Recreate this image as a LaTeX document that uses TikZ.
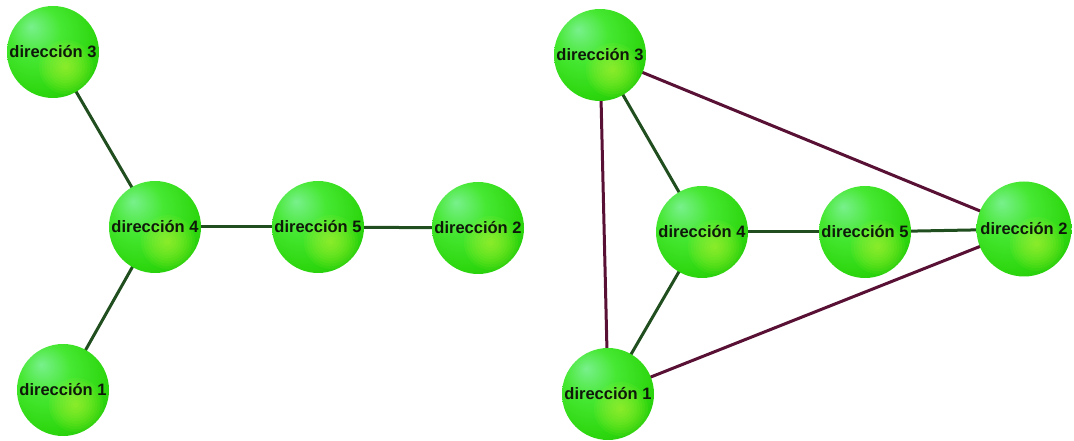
\documentclass[tikz,border=0pt]{standalone}
\usepackage{fontspec}
\setmainfont{Liberation Sans}
\definecolor{spA}{RGB}{120,240,140}
\definecolor{spB}{RGB}{70,232,50}
\definecolor{spC}{RGB}{45,215,15}
\definecolor{spD}{RGB}{25,180,0}
\definecolor{spY}{RGB}{215,255,60}
\definecolor{edgegreen}{RGB}{32,78,30}
\definecolor{edgemaroon}{RGB}{88,16,52}
\definecolor{labelcol}{RGB}{15,25,10}
\pgfdeclareradialshading{sphere}{\pgfpoint{-12bp}{14bp}}{%
  color(0bp)=(spA); color(14bp)=(spB); color(30bp)=(spC); color(48bp)=(spD); color(70bp)=(spD)}
\pgfdeclarelayer{background}
\pgfsetlayers{background,main}
\tikzset{
  ball/.style={circle, minimum size=92pt, inner sep=0pt, shading=sphere,
    path picture={\foreach \k in {1,...,10}{\fill[spY, opacity=0.07] (path picture bounding box.center) ++(13pt,-15pt) circle ({2.7*\k pt});}},
    label={[font=\fontsize{16.5}{18}\selectfont\bfseries, text=labelcol, inner sep=0pt]center:#1}},
  gedge/.style={draw=edgegreen, line width=3pt},
  medge/.style={draw=edgemaroon, line width=3pt}
}
\begin{document}
\begin{tikzpicture}[x=1pt,y=1pt]
\useasboundingbox (0,0) rectangle (1074,441);
% left graph
\node[ball={dirección 3}] (L3) at (53,389) {};
\node[ball={dirección 4}] (L4) at (155,214) {};
\node[ball={dirección 5}] (L5) at (318,214) {};
\node[ball={dirección 2}] (L2) at (478,213) {};
\node[ball={dirección 1}] (L1) at (63,51) {};
% right graph
\node[ball={dirección 3}] (R3) at (600,386) {};
\node[ball={dirección 4}] (R4) at (702,209) {};
\node[ball={dirección 5}] (R5) at (865,209) {};
\node[ball={dirección 2}, minimum size=95pt] (R2) at (1024,212) {};
\node[ball={dirección 1}] (R1) at (608,47) {};
\begin{pgfonlayer}{background}
\draw[gedge] (L3.center) -- (L4.center);
\draw[gedge] (L1.center) -- (L4.center);
\draw[gedge] (L4.center) -- (L5.center);
\draw[gedge] (L5.center) -- (L2.center);
\draw[medge] (R3.center) -- (R1.center);
\draw[medge] (R3.center) -- (R2.center);
\draw[medge] (R1.center) -- (R2.center);
\draw[gedge] (R3.center) -- (R4.center);
\draw[gedge] (R1.center) -- (R4.center);
\draw[gedge] (R4.center) -- (R5.center);
\draw[gedge] (R5.center) -- (R2.center);
\end{pgfonlayer}
\end{tikzpicture}
\end{document}
